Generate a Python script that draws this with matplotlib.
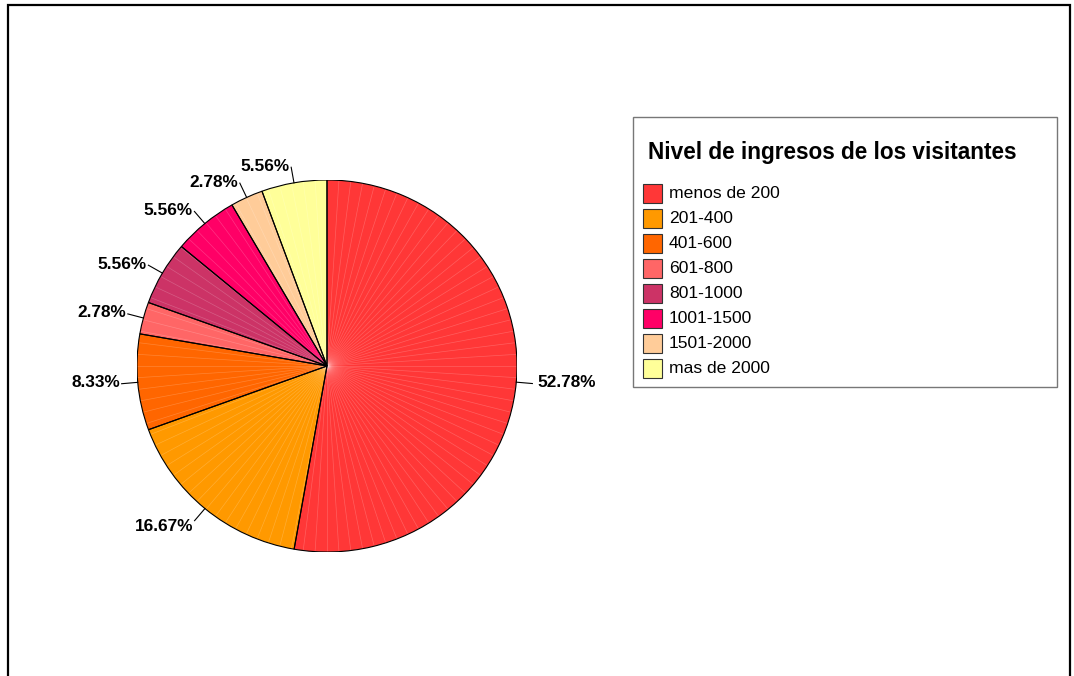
import numpy as np
import matplotlib
matplotlib.use("Agg")
import matplotlib.pyplot as plt
from matplotlib.patches import Rectangle, Wedge

plt.rcParams['font.family'] = ['Liberation Sans', 'DejaVu Sans']

categories = ["menos de 200", "201-400", "401-600", "601-800", "801-1000",
              "1001-1500", "1501-2000", "mas de 2000"]
percentages = [52.78, 16.67, 8.33, 2.78, 5.56, 5.56, 2.78, 5.56]
colors = ["#FF3737", "#FF9900", "#FF6600", "#FF6666", "#CC3366",
          "#FF0066", "#FFCC99", "#FFFF99"]
legend_title = "Nivel de ingresos de los visitantes"

W, H = 1074, 676
fig = plt.figure(figsize=(W / 100, H / 100), dpi=100)

# overlay axes in pixel coordinates
ov = fig.add_axes([0, 0, 1, 1])
ov.set_xlim(0, W)
ov.set_ylim(H, 0)
ov.axis('off')
ov.plot([8, 8, 1070, 1070], [H + 5, 5, 5, H + 5], color='black', lw=1.6,
        solid_joinstyle='miter', clip_on=False)

# pie axes
cx, cy, rx, ry = 327, 366, 190, 186
ax = fig.add_axes([(cx - rx) / W, (H - cy - ry) / H, 2 * rx / W, 2 * ry / H])

wedges, _ = ax.pie(percentages, colors=colors, startangle=90, counterclock=False,
                   radius=1.0, center=(0, 0), frame=False,
                   wedgeprops=dict(edgecolor='none', linewidth=0))
ax.set_xlim(-1, 1)
ax.set_ylim(-1, 1)
ax.set_aspect('auto')
ax.axis('off')

# faint rendering seams like the reference
for a in np.arange(0, 360, 3.6):
    t = np.deg2rad(a)
    ax.plot([0, np.cos(t)], [0, np.sin(t)], color='white', lw=0.5,
            alpha=0.2, zorder=2)

# slice outlines
for w in wedges:
    ax.add_patch(Wedge(w.center, w.r, w.theta1, w.theta2, facecolor='none',
                       edgecolor='black', linewidth=0.8, zorder=3))

for w, p in zip(wedges, percentages):
    ang = np.deg2rad((w.theta1 + w.theta2) / 2)
    c, s = np.cos(ang), np.sin(ang)
    x1, y1 = 1.085 * c, 1.085 * s
    ax.plot([c, x1], [s, y1], color='black', lw=0.8, clip_on=False, zorder=3)
    ha = 'left' if c > 0 else 'right'
    dx = 0.025 if c > 0 else -0.008
    dy = -0.03 if s < -0.5 else 0.005
    ax.text(x1 + dx, y1 + dy, f"{p:.2f}%", ha=ha, va='center',
            fontsize=12.4, fontweight='bold', clip_on=False)

# legend box
ov.add_patch(Rectangle((633, 117), 424, 270, facecolor='white',
                       edgecolor='#777777', lw=1.0))
ov.text(648, 153, legend_title, fontsize=16.3, fontweight='bold',
        ha='left', va='center')
for i, (cat, col) in enumerate(zip(categories, colors)):
    y = 193 + i * 25.1
    ov.add_patch(Rectangle((643, y - 9.5), 19, 19, facecolor=col,
                           edgecolor='#333333', lw=0.8))
    ov.text(669, y, cat, fontsize=12.6, ha='left', va='center')

fig.savefig("out.png", dpi=100)
